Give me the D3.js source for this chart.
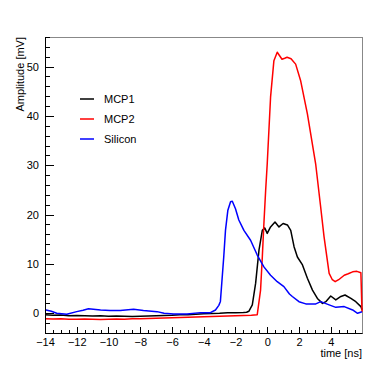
<!DOCTYPE html>
<html>
<head>
<meta charset="utf-8">
<script src="https://cdn.jsdelivr.net/npm/d3@7"></script>
<style>
  body { margin: 0; background: #fff; }
  svg text { font-family: "Liberation Sans", Arial, sans-serif; }
</style>
</head>
<body>
<div id="chart"></div>
<script>
// series data (time in ns, amplitude in mV)
var seriesNames = ["MCP1", "MCP2", "Silicon"];
var seriesColors = ["#000000", "#ff0000", "#0000ff"];

var timeMCP1 = [-14, -13.5, -13, -12.5, -12, -11.5, -11, -10.5, -10, -9.5, -9, -8.5, -8, -7.5, -7, -6.5, -6, -5.5, -5, -4.5, -4, -3.5, -3, -2.5, -2, -1.5, -1.3, -1.16, -0.94, -0.73, -0.52, -0.31, -0.16, 0.0, 0.21, 0.49, 0.74, 1.0, 1.27, 1.48, 1.69, 1.9, 2.22, 2.53, 2.85, 3.16, 3.48, 3.69, 4.0, 4.32, 4.64, 4.9, 5.27, 5.58, 5.9, 5.97];
var ampMCP1 = [-0.3, -0.4, -0.35, -0.5, -0.45, -0.5, -0.55, -0.5, -0.6, -0.55, -0.6, -0.65, -0.6, -0.55, -0.5, -0.45, -0.4, -0.3, -0.3, -0.2, -0.1, -0.05, 0.0, 0.1, 0.1, 0.15, 0.2, 0.4, 1.7, 6.1, 12.8, 16.8, 17.3, 16.2, 17.5, 18.5, 17.5, 18.2, 17.9, 16.8, 13.5, 11.4, 9.8, 7.1, 4.7, 3.0, 2.0, 2.35, 3.5, 2.7, 3.4, 3.7, 3.0, 2.35, 1.35, 0.7];

var timeMCP2 = [-14, -13.5, -13, -12.5, -12, -11.5, -11, -10.5, -10, -9.5, -9, -8.5, -8, -7.5, -7, -6.5, -6, -5.5, -5, -4.5, -4, -3.5, -3, -2.5, -2, -1.5, -1, -0.63, -0.42, -0.31, -0.21, -0.1, 0.0, 0.21, 0.42, 0.63, 0.78, 0.93, 1.1, 1.25, 1.5, 1.79, 2.1, 2.53, 3.05, 3.35, 3.58, 3.9, 4.1, 4.28, 4.5, 4.85, 5.1, 5.38, 5.65, 5.9, 5.97];
var ampMCP2 = [-1.1, -1.15, -1.1, -1.2, -1.2, -1.15, -1.2, -1.25, -1.2, -1.15, -1.2, -1.1, -1.1, -1.05, -1.0, -0.95, -0.9, -0.85, -0.8, -0.75, -0.7, -0.65, -0.6, -0.55, -0.5, -0.45, -0.4, -0.3, 4.7, 11.4, 18.2, 24.9, 30.3, 43.8, 51.2, 52.9, 52.2, 51.5, 51.7, 51.9, 51.6, 50.5, 47.2, 40.4, 30.3, 22.0, 15.5, 8.1, 6.8, 6.4, 6.8, 7.7, 8.0, 8.4, 8.5, 8.2, 0.3];

var timeSilicon = [-14, -13.6, -13.26, -12.63, -12.0, -11.6, -11.26, -10.5, -9.9, -9.26, -8.42, -7.8, -6.94, -6.5, -5.9, -5.05, -4.2, -3.58, -3.26, -3.05, -2.95, -2.74, -2.63, -2.48, -2.31, -2.2, -2.0, -1.79, -1.47, -1.05, -0.63, -0.21, 0.21, 0.63, 1.05, 1.4, 1.58, 2.0, 2.43, 3.06, 3.37, 3.9, 4.32, 4.85, 5.38, 5.69, 5.97];
var ampSilicon = [0.7, 0.4, 0.0, -0.2, 0.33, 0.6, 0.9, 0.67, 0.54, 0.54, 0.8, 0.54, 0.33, 0.0, -0.13, -0.13, 0.13, 0.13, 0.67, 1.6, 2.4, 11.4, 16.8, 20.9, 22.6, 22.7, 21.2, 18.9, 16.8, 14.8, 11.8, 9.4, 7.7, 6.4, 5.4, 3.9, 3.4, 2.35, 1.9, 1.9, 2.35, 1.7, 1.2, 1.35, 0.67, 0.0, 0.3];

var xTicks = [-14, -12, -10, -8, -6, -4, -2, 0, 2, 4];
var yTicks = [0, 10, 20, 30, 40, 50];

var width = 381,
    height = 371;
var padL = 45, padR = 362, padT = 37, padB = 333;

var svg = d3.select("#chart")
    .append("svg")
    .attr("width", width)
    .attr("height", height);

var x = d3.scaleLinear().domain([-14, 5.97]).range([padL, padR]);
var y = d3.scaleLinear().domain([-4, 56]).range([padB, padT]);

// frame
svg.append("rect")
    .attr("x", padL + 0.5)
    .attr("y", padT + 0.5)
    .attr("width", padR - padL)
    .attr("height", padB - padT)
    .attr("fill", "none")
    .attr("stroke", "#888");

var series = [
    {t: timeMCP1, v: ampMCP1},
    {t: timeMCP2, v: ampMCP2},
    {t: timeSilicon, v: ampSilicon}
];

var line = d3.line()
    .x(d => x(d[0]))
    .y(d => y(d[1]));

var plot = svg.append("g");
series.forEach(function (s, i) {
    var pts = s.t.map((t, j) => [t, s.v[j]]);
    plot.append("path")
        .datum(pts)
        .attr("fill", "none")
        .attr("stroke", seriesColors[i])
        .attr("stroke-width", 1.5)
        .attr("stroke-linejoin", "round")
        .attr("d", line);
});

// axes, ROOT style: ticks inside the frame
var xAxis = d3.axisBottom(x).tickValues(xTicks).tickSize(0).tickPadding(5)
    .tickFormat(d => d < 0 ? "\u2212" + Math.abs(d) : d);
var gx = svg.append("g")
    .attr("transform", "translate(0," + padB + ")")
    .call(xAxis);
gx.select(".domain").attr("stroke", "#000");
gx.selectAll("text").attr("font-size", "11px").attr("fill", "#000");

var xMinor = d3.range(-14, 6.0, 0.5);
svg.append("g").selectAll("line")
    .data(xMinor)
    .enter()
    .append("line")
    .attr("x1", d => Math.round(x(d)) + 0.5)
    .attr("x2", d => Math.round(x(d)) + 0.5)
    .attr("y1", padB)
    .attr("y2", d => padB - (d % 2 === 0 ? 6 : 3))
    .attr("stroke", "#000");

var yAxis = d3.axisLeft(y).tickValues(yTicks).tickSize(0).tickPadding(6);
var gy = svg.append("g")
    .attr("transform", "translate(" + padL + ",0)")
    .call(yAxis);
gy.select(".domain").attr("stroke", "#000");
gy.selectAll("text").attr("font-size", "11px").attr("fill", "#000");

var yMinor = d3.range(-4, 56.1, 2);
svg.append("g").selectAll("line")
    .data(yMinor)
    .enter()
    .append("line")
    .attr("x1", padL)
    .attr("x2", d => padL + (d % 10 === 0 ? 9 : 5))
    .attr("y1", d => Math.round(y(d)) + 0.5)
    .attr("y2", d => Math.round(y(d)) + 0.5)
    .attr("stroke", "#000");

// axis titles
svg.append("text")
    .text("time [ns]")
    .attr("x", padR)
    .attr("y", 357)
    .attr("text-anchor", "end")
    .attr("font-size", "11px");

svg.append("text")
    .text("Amplitude [mV]")
    .attr("transform", "translate(24," + padT + ") rotate(-90)")
    .attr("text-anchor", "end")
    .attr("font-size", "11px");

// legend
var legend = svg.append("g");
seriesNames.forEach(function (name, i) {
    var ly = 99 + i * 20;
    legend.append("line")
        .attr("x1", 80).attr("x2", 94)
        .attr("y1", ly).attr("y2", ly)
        .attr("stroke", seriesColors[i])
        .attr("stroke-width", 1.5);
    legend.append("text")
        .text(name)
        .attr("x", 104)
        .attr("y", ly + 4)
        .attr("font-size", "11px");
});
</script>
</body>
</html>
